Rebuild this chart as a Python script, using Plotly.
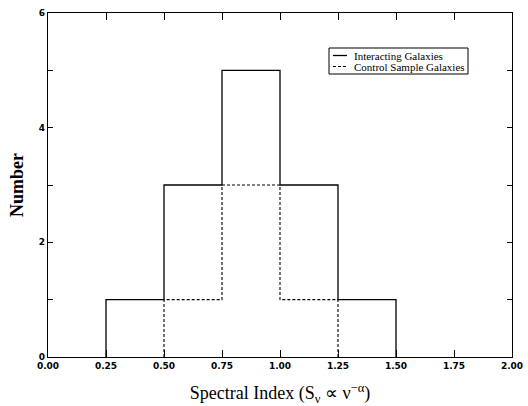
import plotly.graph_objects as go

bin_edges = [0.25, 0.50, 0.75, 1.00, 1.25, 1.50]
interacting_counts = [1, 3, 5, 3, 1]
control_edges = [0.50, 0.75, 1.00, 1.25]
control_counts = [1, 3, 1]
series_names = ["Interacting Galaxies", "Control Sample Galaxies"]
x_ticks = [0.00, 0.25, 0.50, 0.75, 1.00, 1.25, 1.50, 1.75, 2.00]
x_ticklabels = ["0.00", "0.25", "0.50", "0.75", "1.00", "1.25", "1.50", "1.75", "2.00"]
y_ticks = [0, 2, 4, 6]
y_ticklabels = ["0", "2", "4", "6"]


def step_path(edges, counts):
    xs = [edges[0]] + list(edges)
    ys = [0] + list(counts) + [0]
    return xs, ys


xi, yi = step_path(bin_edges, interacting_counts)
xc, yc = step_path(control_edges, control_counts)

styles = [dict(color="black", width=1.3), dict(color="black", width=1.1, dash="3px,2px")]

fig = go.Figure()
fig.add_trace(go.Scatter(x=xi, y=yi, mode="lines", line=dict(shape="hv", **styles[0]),
                         name=series_names[0]))
fig.add_trace(go.Scatter(x=xc, y=yc, mode="lines", line=dict(shape="hv", **styles[1]),
                         name=series_names[1]))

# custom compact legend (paper coordinates)
L, T = 48, 13
W, H = 512 - 48, 357 - 13
def px(x):
    return (x - L) / W
def py(y):
    return (357 - y) / H

fig.add_shape(type="rect", xref="paper", yref="paper", x0=px(329), x1=px(468), y0=py(74), y1=py(48),
              line=dict(color="black", width=1), fillcolor="white", layer="above")
for i, (name, st) in enumerate(zip(series_names, styles)):
    yy = 55.5 + i * 11
    fig.add_shape(type="line", xref="paper", yref="paper", x0=px(333), x1=px(347), y0=py(yy), y1=py(yy),
                  line=st, layer="above")
    fig.add_annotation(xref="paper", yref="paper", x=px(352), y=py(yy), xanchor="left", yanchor="middle",
                       text=name, showarrow=False,
                       font=dict(family="Liberation Serif", size=11, color="black"))

tick_font = dict(family="DejaVu Sans", size=9, color="black", weight="bold")

fig.update_layout(
    width=528, height=406,
    margin=dict(l=48, r=16, t=13, b=49),
    paper_bgcolor="white", plot_bgcolor="white",
    showlegend=False,
    xaxis=dict(range=[0, 2], tickvals=x_ticks, ticktext=x_ticklabels,
               ticks="inside", ticklen=7, tickwidth=1, tickcolor="black",
               showline=True, linecolor="black", linewidth=1.3, mirror="allticks",
               showgrid=False, zeroline=False, automargin=False,
               tickfont=tick_font,
               title=dict(text="Spectral Index (S<sub>ν</sub> ∝ ν<sup>−α</sup>)",
                          font=dict(family="Liberation Serif", size=18, color="black"), standoff=17)),
    yaxis=dict(range=[0, 6], tickvals=y_ticks, ticktext=y_ticklabels,
               ticks="inside", ticklen=5, tickwidth=1, tickcolor="black",
               minor=dict(dtick=1, ticks="inside", ticklen=5, tickwidth=1, tickcolor="black", showgrid=False),
               showline=True, linecolor="black", linewidth=1.3, mirror="allticks",
               showgrid=False, zeroline=False, automargin=False,
               tickfont=tick_font,
               title=dict(text="<b>Number</b>",
                          font=dict(family="Liberation Serif", size=18, color="black"), standoff=10)),
)

fig.write_html("out.html", config={"displayModeBar": False},
               post_script="document.body.style.margin='0';document.body.style.overflow='hidden';")
